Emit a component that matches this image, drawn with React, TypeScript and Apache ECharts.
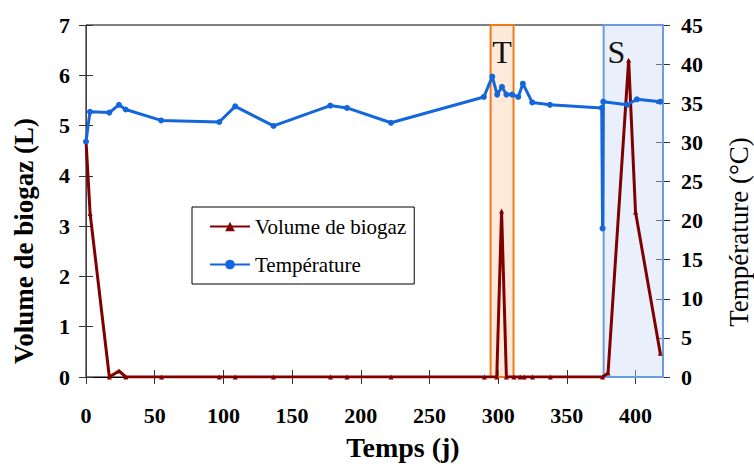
import React, { useEffect, useRef } from "react";
import * as echarts from "echarts";

const biogasDays = [0, 3, 17, 24, 29, 55, 97, 108.6, 136.5, 178, 190, 222, 290, 299, 302.5, 306, 311.5, 316, 319, 325, 338, 376, 380, 395, 400, 418];
const biogasValues = [4.7, 3.25, 0, 0.12, 0, 0, 0, 0, 0, 0, 0, 0, 0, 0, 3.3, 0, 0, 0, 0, 0, 0, 0, 0.08, 6.3, 3.28, 0.47];

const tempDays = [0, 2.9, 17, 24, 28.9, 54.7, 97, 108.6, 136.5, 177.8, 190, 222, 289.6, 295.7, 299.3, 302.8, 306, 310.2, 314.6, 318, 324.8, 337.7, 375.4, 376, 376.5, 394, 401, 418];
const tempValues = [30.1, 33.9, 33.8, 34.8, 34.2, 32.8, 32.6, 34.6, 32.1, 34.7, 34.4, 32.5, 35.8, 38.4, 36.1, 37.1, 36.1, 36.1, 35.8, 37.5, 35.1, 34.8, 34.4, 19, 35.2, 34.8, 35.5, 35.2];

const zoneT = [294.5, 311.2];
const zoneS = [376.8, 420];
const zoneNames = ["T", "S"];

const seriesNames = ["Volume de biogaz", "Température"];
const xTitle = "Temps (j)";
const yLeftTitle = "Volume de biogaz (L)";
const yRightTitle = "Température (°C)";

const FONT = "Liberation Serif";

export default function App() {
  const ref = useRef<HTMLDivElement>(null);
  useEffect(() => {
    if (!ref.current) return;
    const chart = echarts.init(ref.current, null, { renderer: "svg" });
    const tickLabel = { fontFamily: FONT, fontSize: 22, fontWeight: "bold", color: "#000" };
    const xBase = { type: "value", min: 0, max: 420, interval: 50, position: "bottom", splitLine: { show: false } };
    const option: any = {
      animation: false,
      backgroundColor: "#fff",
      textStyle: { fontFamily: FONT },
      grid: { left: 86, right: 91, top: 25, bottom: 87, show: true, borderColor: "#000", borderWidth: 1 },
      legend: {
        data: seriesNames,
        orient: "vertical",
        left: 192,
        top: 207,
        backgroundColor: "#fff",
        borderColor: "#000",
        borderWidth: 1,
        padding: [9, 8, 9, 17],
        itemWidth: 40,
        itemHeight: 12,
        itemGap: 17,
        textStyle: { fontFamily: FONT, fontSize: 21, color: "#000" },
      },
      xAxis: [
        {
          ...xBase,
          axisLine: { show: true, lineStyle: { color: "#000", width: 1 } },
          axisTick: { show: true, inside: false, length: 7, lineStyle: { color: "#333" } },
          axisLabel: { ...tickLabel, margin: 27, showMaxLabel: false },
        },
        {
          ...xBase,
          axisLine: { show: false },
          axisTick: { show: true, inside: true, length: 7, lineStyle: { color: "#333" } },
          axisLabel: { show: false },
        },
      ],
      yAxis: [
        {
          type: "value", min: 0, max: 7, interval: 1, position: "left",
          axisLine: { show: true, lineStyle: { color: "#444", width: 1 } },
          axisTick: { show: true, inside: false, length: 7, lineStyle: { color: "#333" } },
          axisLabel: { ...tickLabel, margin: 16 },
          splitLine: { show: false },
        },
        {
          type: "value", min: 0, max: 7, interval: 1, position: "left",
          axisLine: { show: false },
          axisTick: { show: true, inside: true, length: 7, lineStyle: { color: "#333" } },
          axisLabel: { show: false },
          splitLine: { show: false },
        },
        {
          type: "value", min: 0, max: 45, interval: 5, position: "right",
          axisLine: { show: true, lineStyle: { color: "#444", width: 1 } },
          axisTick: { show: true, inside: false, length: 7, lineStyle: { color: "#333" } },
          axisLabel: { ...tickLabel, margin: 18 },
          splitLine: { show: false },
        },
        {
          type: "value", min: 0, max: 45, interval: 5, position: "right",
          axisLine: { show: false },
          axisTick: { show: true, inside: true, length: 7, lineStyle: { color: "#333" } },
          axisLabel: { show: false },
          splitLine: { show: false },
        },
      ],
      series: [
        {
          name: seriesNames[0],
          type: "line",
          xAxisIndex: 0,
          yAxisIndex: 0,
          data: biogasDays.map((d, i) => [d, biogasValues[i]]),
          color: "#800000",
          lineStyle: { width: 3, color: "#800000" },
          itemStyle: { color: "#800000" },
          symbol: "triangle",
          symbolSize: 5,
          showAllSymbol: true,
          z: 2,
        },
        {
          name: seriesNames[1],
          type: "line",
          xAxisIndex: 0,
          yAxisIndex: 2,
          data: tempDays.map((d, i) => [d, tempValues[i]]),
          color: "#1466dc",
          lineStyle: { width: 3, color: "#1466dc" },
          itemStyle: { color: "#1466dc" },
          symbol: "circle",
          symbolSize: 6,
          showAllSymbol: true,
          z: 3,
        },
        {
          name: "zones",
          type: "line",
          xAxisIndex: 0,
          yAxisIndex: 0,
          data: [],
          z: 5,
          clip: false,
          markArea: {
            silent: true,
            label: {
              show: true,
              position: "insideTop",
              distance: 12,
              fontFamily: FONT,
              fontSize: 32,
              color: "#111",
            },
            data: [
              [
                { name: zoneNames[0], xAxis: zoneT[0], yAxis: -0.12, itemStyle: { color: "rgba(250,205,170,0.42)", borderColor: "#f07a1a", borderWidth: 2 } },
                { xAxis: zoneT[1], yAxis: 7 },
              ],
              [
                { name: zoneNames[1], xAxis: zoneS[0], yAxis: -0.06, label: { offset: [-17, 0] }, itemStyle: { color: "rgba(200,216,245,0.4)", borderColor: "#6a9de0", borderWidth: 2 } },
                { xAxis: zoneS[1], yAxis: 7 },
              ],
            ],
          },
        },
      ],
      graphic: [
        {
          type: "text",
          x: 24,
          y: 241,
          rotation: Math.PI / 2,
          style: { text: yLeftTitle, fontFamily: FONT, fontSize: 27, fontWeight: "bold", fill: "#000", textAlign: "center", textVerticalAlign: "middle" },
        },
        {
          type: "text",
          x: 739,
          y: 232,
          rotation: Math.PI / 2,
          style: { text: yRightTitle, fontFamily: FONT, fontSize: 27, fill: "#000", textAlign: "center", textVerticalAlign: "middle" },
        },
        {
          type: "text",
          x: 403,
          y: 447,
          style: { text: xTitle, fontFamily: FONT, fontSize: 28, fontWeight: "bold", fill: "#000", textAlign: "center", textVerticalAlign: "middle" },
        },
      ],
    };
    chart.setOption(option);
    return () => chart.dispose();
  }, []);
  return <div ref={ref} style={{ width: 754, height: 464, position: "absolute", left: 0, top: 0 }} />;
}
